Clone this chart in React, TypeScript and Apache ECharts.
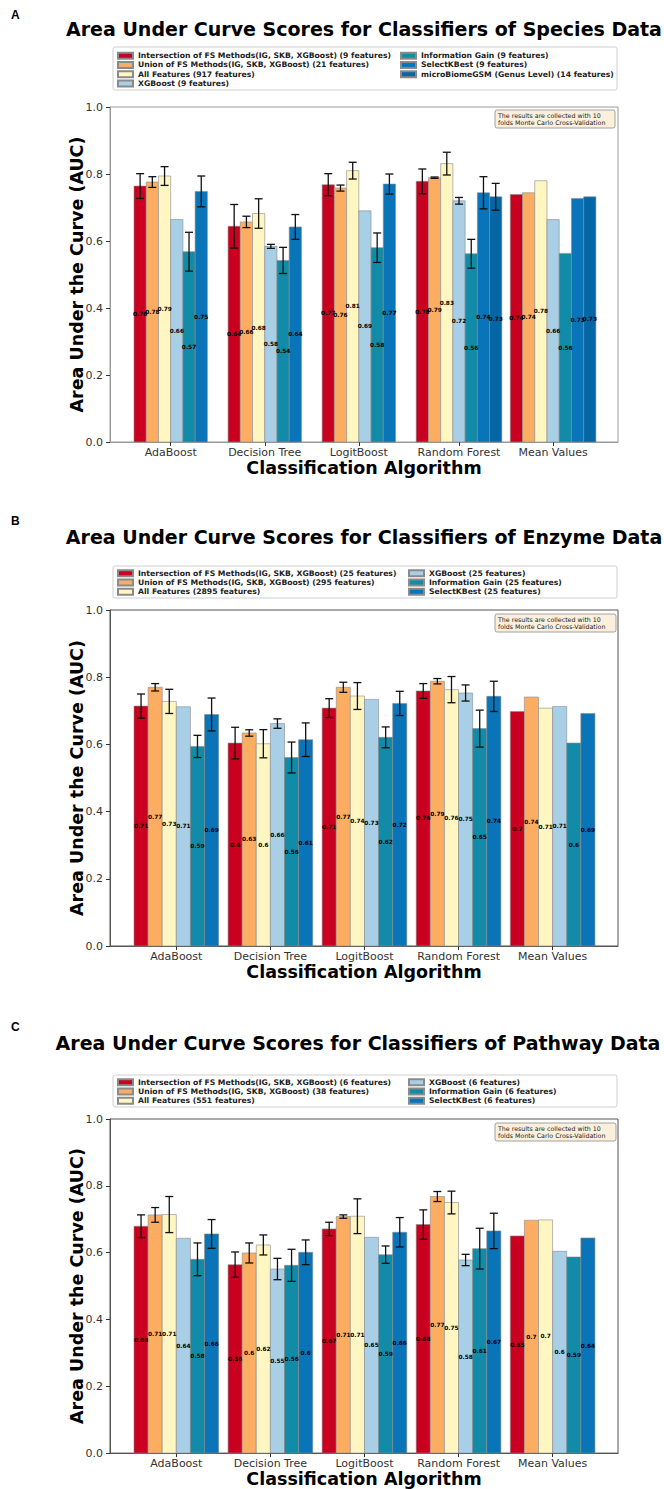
import React, { useEffect, useRef } from 'react';
import * as echarts from 'echarts';

// ---------- shared ----------
const categories = ['AdaBoost', 'Decision Tree', 'LogitBoost', 'Random Forest', 'Mean Values'];
const noteText = 'The results are collected with 10\nfolds Monte Carlo Cross-Validation';
const xAxisTitle = 'Classification Algorithm';
const yAxisTitle = 'Area Under the Curve (AUC)';

// ---------- Panel A: Species ----------
const speciesNames = [
  'Intersection of FS Methods(IG, SKB, XGBoost) (9 features)',
  'Union of FS Methods(IG, SKB, XGBoost) (21 features)',
  'All Features (917 features)',
  'XGBoost (9 features)',
  'Information Gain (9 features)',
  'SelectKBest (9 features)',
  'microBiomeGSM (Genus Level) (14 features)',
];
const speciesIntersection = [0.764, 0.644, 0.768, 0.778, 0.739];
const speciesUnion = [0.776, 0.657, 0.758, 0.789, 0.744];
const speciesAll = [0.794, 0.682, 0.81, 0.831, 0.78];
const speciesXGB = [0.664, 0.584, 0.69, 0.72, 0.664];
const speciesIG = [0.568, 0.542, 0.58, 0.562, 0.563];
const speciesSKB = [0.748, 0.642, 0.77, 0.744, 0.727];
const speciesGSM = [null, null, null, 0.732, 0.732];
const speciesIntersectionErr = [0.037, 0.065, 0.033, 0.037, 0];
const speciesUnionErr = [0.016, 0.017, 0.009, 0.002, 0];
const speciesAllErr = [0.028, 0.044, 0.025, 0.034, 0];
const speciesXGBErr = [0, 0.006, 0, 0.01, 0];
const speciesIGErr = [0.058, 0.039, 0.044, 0.043, 0];
const speciesSKBErr = [0.046, 0.037, 0.03, 0.048, 0];
const speciesGSMErr = [0, 0, 0, 0.04, 0];

// ---------- Panel B: Enzyme ----------
const enzymeNames = [
  'Intersection of FS Methods(IG, SKB, XGBoost) (25 features)',
  'Union of FS Methods(IG, SKB, XGBoost) (295 features)',
  'All Features (2895 features)',
  'XGBoost (25 features)',
  'Information Gain (25 features)',
  'SelectKBest (25 features)',
];
const enzymeIntersection = [0.714, 0.604, 0.708, 0.759, 0.698];
const enzymeUnion = [0.77, 0.634, 0.77, 0.788, 0.741];
const enzymeAll = [0.728, 0.602, 0.744, 0.763, 0.708];
const enzymeXGB = [0.712, 0.662, 0.734, 0.753, 0.713];
const enzymeIG = [0.594, 0.561, 0.621, 0.647, 0.604];
const enzymeSKB = [0.689, 0.614, 0.722, 0.743, 0.692];
const enzymeIntersectionErr = [0.036, 0.047, 0.028, 0.022, 0];
const enzymeUnionErr = [0.011, 0.0095, 0.015, 0.008, 0];
const enzymeAllErr = [0.036, 0.042, 0.04, 0.039, 0];
const enzymeXGBErr = [0, 0.014, 0, 0.024, 0];
const enzymeIGErr = [0.033, 0.046, 0.031, 0.055, 0];
const enzymeSKBErr = [0.049, 0.05, 0.036, 0.045, 0];

// ---------- Panel C: Pathway ----------
const pathwayNames = [
  'Intersection of FS Methods(IG, SKB, XGBoost) (6 features)',
  'Union of FS Methods(IG, SKB, XGBoost) (38 features)',
  'All Features (551 features)',
  'XGBoost (6 features)',
  'Information Gain (6 features)',
  'SelectKBest (6 features)',
];
const pathwayIntersection = [0.679, 0.564, 0.671, 0.684, 0.65];
const pathwayUnion = [0.713, 0.599, 0.708, 0.768, 0.697];
const pathwayAll = [0.714, 0.623, 0.709, 0.75, 0.698];
const pathwayXGB = [0.643, 0.551, 0.646, 0.578, 0.604];
const pathwayIG = [0.58, 0.562, 0.594, 0.612, 0.587];
const pathwaySKB = [0.656, 0.601, 0.661, 0.665, 0.644];
const pathwayIntersectionErr = [0.034, 0.038, 0.02, 0.044, 0];
const pathwayUnionErr = [0.022, 0.03, 0.005, 0.015, 0];
const pathwayAllErr = [0.054, 0.03, 0.052, 0.034, 0];
const pathwayXGBErr = [0, 0.032, 0, 0.017, 0];
const pathwayIGErr = [0.049, 0.048, 0.026, 0.061, 0];
const pathwaySKBErr = [0.043, 0.037, 0.044, 0.053, 0];

// ---------- styles ----------
const palette = ['#c90020', '#fdad62', '#fff6c2', '#a8cfe5', '#118ba7', '#0a74b8', '#0566a6'];
const FONT = 'DejaVu Sans';

type Panel = {
  letter: string; title: string; names: string[];
  values: (number | null)[][]; errors: number[][];
  w: number; min: number; max: number;
  letterY: number; titleX: number; titleY: number;
  legendBox: number[]; legendTop: number; rightColX: number; split: number;
  gridTop: number; gridH: number; frame: string; note: number[];
};

const panels: Panel[] = [
  {
    letter: 'A', title: 'Area Under Curve Scores for Classifiers of Species Data',
    names: speciesNames,
    values: [speciesIntersection, speciesUnion, speciesAll, speciesXGB, speciesIG, speciesSKB, speciesGSM],
    errors: [speciesIntersectionErr, speciesUnionErr, speciesAllErr, speciesXGBErr, speciesIGErr, speciesSKBErr, speciesGSMErr],
    w: 0.13, min: -0.32, max: 5.08, letterY: 15, titleX: 364, titleY: 29,
    legendBox: [113, 47, 504, 43], legendTop: 51, rightColX: 400, split: 4,
    gridTop: 107, gridH: 335, frame: '#9a9a9a', note: [495, 110, 120, 18],
  },
  {
    letter: 'B', title: 'Area Under Curve Scores for Classifiers of Enzyme Data',
    names: enzymeNames,
    values: [enzymeIntersection, enzymeUnion, enzymeAll, enzymeXGB, enzymeIG, enzymeSKB],
    errors: [enzymeIntersectionErr, enzymeUnionErr, enzymeAllErr, enzymeXGBErr, enzymeIGErr, enzymeSKBErr],
    w: 0.15, min: -0.33, max: 5.07, letterY: 521, titleX: 364, titleY: 537,
    legendBox: [113, 566, 504, 32], legendTop: 568.5, rightColX: 408, split: 3,
    gridTop: 610, gridH: 336, frame: '#555555', note: [495, 614, 121, 18],
  },
  {
    letter: 'C', title: 'Area Under Curve Scores for Classifiers of Pathway Data',
    names: pathwayNames,
    values: [pathwayIntersection, pathwayUnion, pathwayAll, pathwayXGB, pathwayIG, pathwaySKB],
    errors: [pathwayIntersectionErr, pathwayUnionErr, pathwayAllErr, pathwayXGBErr, pathwayIGErr, pathwaySKBErr],
    w: 0.15, min: -0.33, max: 5.07, letterY: 1027, titleX: 358, titleY: 1043,
    legendBox: [113, 1075, 504, 32], legendTop: 1077.5, rightColX: 408, split: 3,
    gridTop: 1119, gridH: 336, frame: '#555555', note: [495, 1123, 121, 18],
  },
];

const fmt = (v: number) => String(Math.round(v * 100) / 100);

function makeRender(color: string, w: number) {
  return (_params: any, api: any) => {
    const x = api.value(0);
    const v = api.value(1);
    const e = api.value(2);
    const top = api.coord([x, v]);
    const base = api.coord([x, 0]);
    const bw = api.size([w, 0])[0];
    const children: any[] = [
      {
        type: 'rect',
        shape: { x: top[0] - bw / 2, y: top[1], width: bw, height: base[1] - top[1] },
        style: { fill: color, stroke: '#8a8a8a', lineWidth: 0.6 },
      },
    ];
    if (e > 0) {
      const hi = api.coord([x, v + e])[1];
      const lo = api.coord([x, v - e])[1];
      const cx = top[0];
      const st = { stroke: '#111', lineWidth: 1.3 };
      children.push({ type: 'line', z2: 50, shape: { x1: cx, y1: hi, x2: cx, y2: lo }, style: st });
      children.push({ type: 'line', z2: 50, shape: { x1: cx - 4, y1: hi, x2: cx + 4, y2: hi }, style: st });
      children.push({ type: 'line', z2: 50, shape: { x1: cx - 4, y1: lo, x2: cx + 4, y2: lo }, style: st });
    }
    children.push({
      type: 'text', z2: 100, x: top[0], y: (top[1] + base[1]) / 2,
      style: { text: fmt(v), fontSize: 5.8, fontWeight: 'bold', fill: '#000', align: 'center', verticalAlign: 'middle', fontFamily: FONT },
    });
    return { type: 'group', children };
  };
}

function buildOption() {
  const grid: any[] = [];
  const xAxis: any[] = [];
  const yAxis: any[] = [];
  const series: any[] = [];
  const legend: any[] = [];
  const graphic: any[] = [];

  panels.forEach((p, pi) => {
    const xs: (number | null)[][] = p.values.map(() => categories.map(() => null));
    const centers: number[] = [];
    categories.forEach((_, i) => {
      const present = p.values.map((arr, k) => (arr[i] == null ? -1 : k)).filter((k) => k >= 0);
      present.forEach((k, j) => { xs[k][i] = i + j * p.w; });
      centers.push(i + ((present.length - 1) * p.w) / 2);
    });

    grid.push({ left: 110, width: 508, top: p.gridTop, height: p.gridH, show: true, borderColor: p.frame, borderWidth: 1, backgroundColor: 'transparent' });
    xAxis.push({
      type: 'value', gridIndex: pi, min: p.min, max: p.max,
      splitLine: { show: false },
      axisLine: { show: true, onZero: false, lineStyle: { color: p.frame, width: 1 } },
      axisTick: { show: true, customValues: centers, length: 4, lineStyle: { color: '#333' } },
      axisLabel: {
        customValues: centers, margin: 5, fontSize: 11, color: '#333', fontFamily: FONT,
        formatter: (val: number) => {
          let best = 0; let bd = 1e9;
          centers.forEach((c, i) => { const d = Math.abs(c - val); if (d < bd) { bd = d; best = i; } });
          return categories[best];
        },
      },
      name: xAxisTitle, nameLocation: 'middle', nameGap: 16,
      nameTextStyle: { fontSize: 17.5, fontWeight: 'bold', color: '#000', fontFamily: FONT },
    });
    yAxis.push({
      type: 'value', gridIndex: pi, min: 0, max: 1, interval: 0.2,
      splitLine: { show: false },
      axisLine: { show: true, onZero: false, lineStyle: { color: p.frame, width: 1 } },
      axisTick: { show: true, length: 4, lineStyle: { color: '#333' } },
      axisLabel: { margin: 7, fontSize: 11, color: '#333', fontFamily: FONT, formatter: (v: number) => v.toFixed(1) },
      name: yAxisTitle, nameLocation: 'middle', nameGap: 24, nameMoveOverlap: false,
      nameTextStyle: { fontSize: 17.5, fontWeight: 'bold', color: '#000', fontFamily: FONT },
    });

    p.names.forEach((name, k) => {
      const data: any[] = [];
      categories.forEach((_, i) => {
        const v = p.values[k][i];
        if (v == null) return;
        data.push([xs[k][i], v, p.errors[k][i] || 0]);
      });
      series.push({
        type: 'custom', name, xAxisIndex: pi, yAxisIndex: pi,
        dimensions: ['x', 'y', 'err'], encode: { x: 0, y: 1 },
        itemStyle: { color: palette[k], borderColor: '#8a8a8a', borderWidth: 0.6 },
        renderItem: makeRender(palette[k], p.w),
        data,
      });
    });

    const legendCommon = {
      orient: 'vertical', top: p.legendTop, itemWidth: 15, itemHeight: 6, itemGap: 0, padding: 0,
      icon: 'rect', selectedMode: false,
      textStyle: { fontSize: 7.7, lineHeight: 9.3, fontWeight: 'bold', color: '#222', fontFamily: FONT },
    };
    legend.push({ ...legendCommon, left: 117, data: p.names.slice(0, p.split) });
    legend.push({ ...legendCommon, left: p.rightColX, data: p.names.slice(p.split) });

    const [bx, by, bw, bh] = p.legendBox;
    graphic.push({ type: 'rect', z: -1, shape: { x: bx, y: by, width: bw, height: bh, r: 2 }, style: { fill: '#fff', stroke: '#cfcfcf', lineWidth: 1 } });
    graphic.push({ type: 'text', x: 11, y: p.letterY, style: { text: p.letter, fontSize: 12, fontWeight: 'bold', fill: '#000', fontFamily: 'Liberation Sans', verticalAlign: 'middle' } });
    graphic.push({ type: 'text', x: p.titleX, y: p.titleY, style: { text: p.title, fontSize: 19, fontWeight: 'bold', fill: '#000', fontFamily: FONT, align: 'center', verticalAlign: 'middle' } });
    const [nx, ny, nw, nh] = p.note;
    graphic.push({ type: 'rect', z: 10, shape: { x: nx, y: ny, width: nw, height: nh, r: 2 }, style: { fill: '#fcf0dc', stroke: '#8a8a8a', lineWidth: 0.8 } });
    graphic.push({ type: 'text', z: 11, x: nx + 3, y: ny + nh / 2, style: { text: noteText, fontSize: 6.3, lineHeight: 7.5, fill: '#222', fontFamily: FONT, verticalAlign: 'middle' } });
  });

  return { animation: false, backgroundColor: '#fff', grid, xAxis, yAxis, series, legend, graphic };
}

export default function App() {
  const ref = useRef<HTMLDivElement>(null);
  useEffect(() => {
    if (!ref.current) return;
    const chart = echarts.init(ref.current, undefined, { renderer: 'svg' });
    chart.setOption(buildOption() as any);
    return () => chart.dispose();
  }, []);
  return <div ref={ref} style={{ position: 'absolute', left: 0, top: 0, width: 664, height: 1489, background: '#fff' }} />;
}
